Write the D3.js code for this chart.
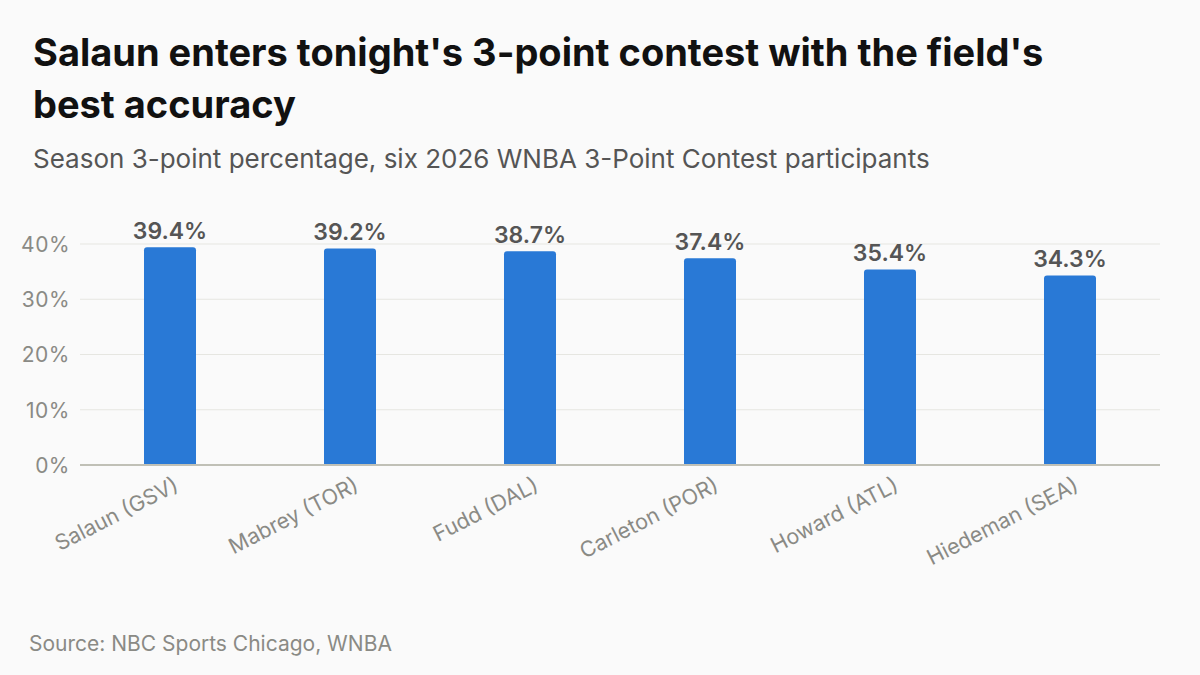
<!DOCTYPE html>
<html><head><meta charset="utf-8">
<script src="https://cdn.jsdelivr.net/npm/d3@7"></script>
<style>
html,body{margin:0;padding:0;background:#fafafa;}
svg{display:block;font-family:Inter,"Noto Sans",sans-serif;}
</style></head>
<body>
<svg id="chart" width="1200" height="675"></svg>
<script>
const categories = ["Salaun (GSV)", "Mabrey (TOR)", "Fudd (DAL)", "Carleton (POR)", "Howard (ATL)", "Hiedeman (SEA)"];
const values = [39.4, 39.2, 38.7, 37.4, 35.4, 34.3];
const yTicks = [0, 10, 20, 30, 40];

const svg = d3.select("#chart");
svg.append("rect").attr("width",1200).attr("height",675).attr("fill","#fafafa");

const plotLeft = 80, plotRight = 1160, plotTop = 244, plotBottom = 465;
const FONT = "Inter,'Noto Sans',sans-serif";

const x = d3.scaleBand().domain(categories).range([plotLeft, plotRight])
  .paddingInner(128/180).paddingOuter(64/180);
const y = d3.scaleLinear().domain([0, 40]).range([plotBottom, plotTop]);

// title
svg.append("text").attr("x",33).attr("y",66).attr("font-size",38).attr("font-weight",700).attr("fill","#111")
  .text("Salaun enters tonight's 3-point contest with the field's");
svg.append("text").attr("x",33).attr("y",118).attr("font-size",38).attr("font-weight",700).attr("fill","#111")
  .text("best accuracy");
svg.append("text").attr("x",33).attr("y",168).attr("font-size",26).attr("fill","#555")
  .text("Season 3-point percentage, six 2026 WNBA 3-Point Contest participants");

// gridlines
const grid = svg.append("g");
grid.selectAll("line").data(yTicks.filter(d=>d>0)).join("line")
  .attr("x1",plotLeft).attr("x2",plotRight).attr("y1",d=>y(d)).attr("y2",d=>y(d))
  .attr("stroke","#e6e6e1").attr("stroke-width",1);

// y axis
const yAxis = d3.axisLeft(y).tickValues(yTicks).tickFormat(d=>d+"%").tickSize(0).tickPadding(10);
const ya = svg.append("g").attr("transform",`translate(${plotLeft},0)`).call(yAxis);
ya.select(".domain").remove();
ya.selectAll("text").attr("font-size",21).attr("fill","#8a8a85").attr("font-family",FONT)
  .attr("letter-spacing","0.5px").attr("dy","0.35em");

// bars
const r = 3;
svg.append("g").selectAll("path").data(values).join("path")
  .attr("fill","#2979d6")
  .attr("d",(d,i)=>{
    const x0 = x(categories[i]), w = x.bandwidth(), y0 = y(d), y1 = y(0);
    return `M${x0},${y1}V${y0+r}Q${x0},${y0} ${x0+r},${y0}H${x0+w-r}Q${x0+w},${y0} ${x0+w},${y0+r}V${y1}Z`;
  });

// baseline
svg.append("line").attr("x1",plotLeft).attr("x2",plotRight).attr("y1",y(0)).attr("y2",y(0))
  .attr("stroke","#c0c0b6").attr("stroke-width",2);

// value labels
svg.append("g").selectAll("text").data(values).join("text")
  .attr("x",(d,i)=>x(categories[i])+x.bandwidth()/2)
  .attr("y",d=>y(d)-8)
  .attr("text-anchor","middle").attr("font-size",23).attr("font-weight",600).attr("fill","#555")
  .text(d=>d.toFixed(1)+"%");

// x axis labels
const xAxis = d3.axisBottom(x).tickSize(0).tickPadding(0);
const xa = svg.append("g").attr("transform",`translate(0,${plotBottom})`).call(xAxis);
xa.select(".domain").remove();
xa.selectAll("text")
  .attr("font-size",21.5).attr("fill","#8a8a85").attr("font-family",FONT)
  .attr("text-anchor","end").attr("dy",0).attr("y",0)
  .attr("transform","translate(10,25) rotate(-27)");

// source
svg.append("text").attr("x",29).attr("y",651).attr("font-size",21).attr("fill","#8a8a85")
  .text("Source: NBC Sports Chicago, WNBA");
</script>
</body></html>
